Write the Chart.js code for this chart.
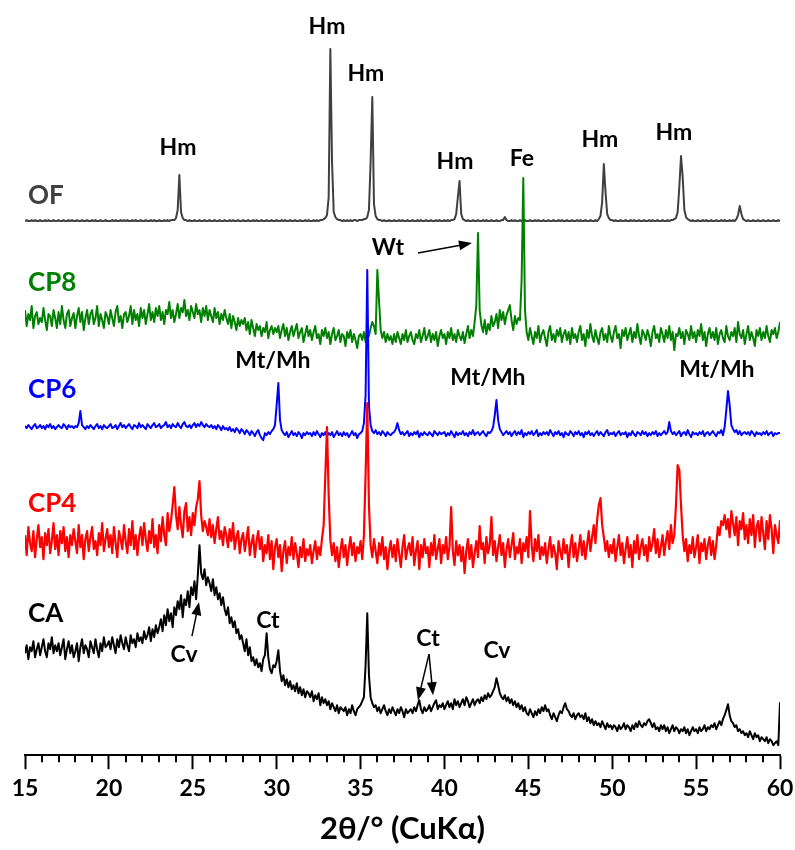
<!DOCTYPE html>
<html>
<head>
<meta charset="utf-8">
<script src="https://cdn.jsdelivr.net/npm/chart.js@4.4.1/dist/chart.umd.min.js"></script>
<style>
  html, body { margin: 0; padding: 0; background: #fff; }
  #wrap { width: 795px; height: 850px; }
</style>
</head>
<body>
<div id="wrap"><canvas id="xrd" width="795" height="850"></canvas></div>
<script>
// scan: 15-60 deg 2theta, 0.1 deg step
const scanStart = 15, scanStep = 0.1, scanPoints = 451;
const twoTheta = Array.from({length: scanPoints}, (_, i) => +(scanStart + i * scanStep).toFixed(1));
const majorTicks = [15, 20, 25, 30, 35, 40, 45, 50, 55, 60];

const samples = ['CA', 'CP4', 'CP6', 'CP8', 'OF'];
const offsets = [0, 190, 320, 415, 533];   // vertical stacking of the patterns

// intensities (a.u.), one row = 1 degree (x.0 ... x.9)
const ofCounts = [
  1,2,1,1,2,1,2,1,1,2,  1,1,2,1,2,1,1,2,1,1,  2,1,1,2,1,1,2,1,2,1,  1,2,1,1,2,1,1,2,1,1,  2,1,2,1,1,2,1,1,2,1,   // 15-19
  1,1,2,1,2,1,1,2,1,2,  1,2,1,1,2,1,2,1,1,2,  1,1,2,1,1,2,1,2,1,1,  2,1,1,2,1,2,1,2,2,2,  4,12,47,10,4,2,2,1,2,1, // 20-24
  1,2,1,1,2,1,1,2,1,1,  2,1,1,2,1,1,2,1,1,2,  1,1,2,1,2,1,1,2,1,1,  2,1,1,2,1,1,2,1,2,1,  1,2,1,1,2,1,1,2,1,1,   // 25-29
  2,1,1,2,1,2,1,1,2,1,  1,2,1,1,2,1,1,2,1,2,  1,1,2,1,2,1,2,2,3,4,  7,25,173,60,10,5,3,2,2,1,  2,1,2,1,2,1,2,2,1,2, // 30-34
  2,2,3,3,5,12,60,125,18,6,  3,2,2,1,2,1,1,2,1,1,  2,1,1,2,1,2,1,1,2,1,  1,2,1,1,2,1,2,1,1,2,  1,1,2,1,1,2,1,2,1,1, // 35-39
  2,1,2,1,2,2,3,8,25,41,  8,3,2,1,2,1,1,2,1,1,  2,1,1,2,1,2,1,1,2,1,  1,2,1,1,2,2,5,2,1,1,  2,1,2,1,1,2,1,1,2,1,  // 40-44
  1,2,1,1,2,1,2,1,1,2,  1,1,2,1,1,2,1,1,2,1,  2,1,1,2,1,1,2,1,1,2,  1,2,1,1,2,1,1,2,1,1,  2,1,3,6,20,58,30,8,4,2, // 45-49
  2,1,2,1,1,2,1,1,2,1,  1,2,1,2,1,1,2,1,1,2,  1,1,2,1,2,1,1,2,1,1,  2,1,1,2,1,2,2,3,4,10,  35,66,45,12,5,3,2,1,2,1, // 50-54
  1,2,1,1,2,1,2,1,1,2,  1,1,2,1,1,2,1,2,1,1,  2,1,2,1,3,7,16,8,3,2,  1,2,1,1,2,1,1,2,1,1,  2,1,1,2,1,1,2,1,1,2,  // 55-59
  1
];
const cp8Counts = [
  30,14,26,20,34,12,24,28,16,22,  18,32,20,10,26,24,14,30,22,12,  28,16,34,20,12,26,30,14,22,27,  12,24,32,18,28,10,22,30,16,26,  30,16,22,34,14,26,20,12,28,24, // 15-19
  16,30,22,14,28,34,18,24,12,26,  28,18,24,34,16,30,20,26,14,32,  22,30,16,26,36,20,28,18,32,24,  34,20,28,16,30,26,38,22,30,18,  26,36,22,32,28,40,24,30,20,34, // 20-24
  28,22,36,26,30,18,32,24,34,20,  30,24,18,32,22,28,16,26,20,30,  22,16,26,12,24,18,10,22,14,20,  16,22,10,18,6,20,12,4,16,10,  14,4,12,8,18,2,10,14,6,12,       // 25-29
  8,14,2,10,16,4,12,0,8,14,  4,10,16,2,8,12,-2,6,14,4,  10,0,8,14,2,6,-4,10,4,12,  2,8,-4,6,12,0,4,10,-2,6,  4,-6,8,2,10,-2,6,0,-8,4,                                // 30-34
  6,0,8,-2,10,4,12,18,14,6,  70,40,10,2,8,-2,6,0,4,-4,  6,-2,8,2,-4,6,0,10,-2,4,  8,0,-4,6,2,10,-2,4,12,0,  4,10,-2,6,0,8,-6,4,10,2,                                // 35-39
  6,-4,8,2,12,0,6,-2,10,4,  0,8,-3,6,14,2,10,4,18,35,  107,30,15,8,20,6,16,10,24,14,  18,26,12,30,20,28,16,25,30,35,  20,10,24,16,22,20,60,162,30,8,             // 40-44
  0,12,4,-4,8,2,14,-2,6,10,  2,-6,8,14,0,6,-2,10,4,12,  -2,6,10,0,8,-4,12,2,6,-2,  8,14,0,6,-6,10,2,16,4,-2,  10,2,-4,8,12,0,6,-2,14,4,                              // 45-49
  -2,8,14,2,6,-8,10,4,12,0,  6,12,-2,8,2,16,4,-4,10,6,  0,10,4,-6,8,14,2,6,-2,12,  6,-2,10,2,14,0,8,-10,6,4,  12,2,8,-4,10,6,0,14,2,8,                              // 50-54
  -2,10,4,16,0,8,-6,6,12,2,  8,0,12,-4,6,10,2,-2,14,4,  0,8,4,12,-2,18,6,2,10,-4,  6,14,0,8,2,-6,10,4,12,0,  8,2,14,4,-2,10,6,12,2,8,                               // 55-59
  18
];
const cp6Counts = [
  9,7,10,8,6,9,11,7,8,10,  7,9,6,10,8,11,7,9,6,8,  10,8,7,11,9,6,10,8,9,7,  9,8,12,24,10,8,6,9,7,10,  8,6,9,11,7,9,6,10,8,7,          // 15-19
  9,11,7,8,10,6,9,12,8,10,  7,9,11,8,6,10,9,7,12,8,  10,8,6,11,9,7,10,12,8,9,  11,7,9,10,13,8,10,7,11,9,  8,12,9,7,11,13,9,8,10,7,     // 20-24
  10,12,8,11,9,13,10,8,11,9,  8,10,7,9,6,10,8,5,9,6,  7,5,8,4,6,3,7,5,2,6,  4,1,5,3,0,4,2,-1,3,5,  0,-3,-5,2,0,3,1,4,6,10,           // 25-29
  30,52,15,5,2,0,3,-2,1,4,  0,2,-1,3,1,-3,2,0,3,1,  2,-1,3,0,4,1,-2,2,0,3,  -1,2,0,3,-2,1,4,0,2,-1,  3,0,2,-2,1,4,0,2,-3,1,          // 30-34
  2,4,12,40,165,30,10,4,2,5,  1,3,0,4,2,-1,3,1,0,2,  3,6,12,5,1,3,0,2,4,-1,  2,0,3,1,4,-2,2,0,3,1,  0,3,1,-1,4,2,0,3,1,2,           // 35-39
  3,-1,2,0,4,1,-2,3,0,2,  1,4,0,2,-1,3,1,5,0,2,  3,0,2,4,1,-1,3,2,4,8,  20,35,15,6,3,0,2,4,1,3,  -1,2,4,0,3,1,5,-2,2,0,           // 40-44
  3,1,4,0,2,5,-1,2,0,3,  1,3,0,5,2,-1,3,1,4,0,  2,-2,3,1,0,4,2,-1,3,1,  4,0,2,-2,3,1,4,0,2,-1,  2,4,0,3,1,-1,3,5,0,2,           // 45-49
  1,3,-1,2,4,0,2,1,3,-2,  2,0,4,1,-1,3,2,0,4,1,  3,-1,2,0,3,1,4,-1,2,0,  2,4,1,3,13,4,1,3,0,2,  4,-1,2,3,0,5,1,-2,3,1,          // 50-54
  2,0,3,1,4,-1,2,3,0,2,  4,1,-1,3,2,5,0,8,25,44,  30,10,6,3,5,1,4,0,2,3,  1,3,0,4,2,-1,3,1,2,0,  3,1,4,0,2,3,-1,2,1,2,           // 55-59
  2
];
const cp4Counts = [
  30,10,38,22,14,34,8,26,40,18,  28,6,32,20,36,12,24,42,16,30,  10,34,22,38,14,28,8,30,20,36,  24,12,40,18,30,6,26,34,14,28,  38,16,24,10,32,20,42,14,26,36, // 15-19
  18,30,12,38,22,8,34,26,16,40,  24,12,36,20,44,16,30,10,28,38,  20,42,26,14,34,22,46,18,30,12,  40,24,48,30,20,52,34,44,60,78,  50,36,58,40,28,54,62,34,48,30, // 20-24
  52,40,58,66,84,50,34,44,38,30,  46,28,40,22,36,48,26,34,20,38,  30,18,36,24,42,16,28,34,12,26,  32,14,26,38,10,22,30,8,24,34,  16,28,4,20,12,30,6,24,-4,18,   // 25-29
  26,8,20,-6,14,24,2,18,10,28,  6,22,12,-2,18,8,26,4,16,10,  20,2,14,24,6,18,10,26,40,90,  138,70,25,10,22,4,18,-2,14,26,  8,20,0,16,28,10,22,4,18,12,       // 30-34
  24,6,30,90,162,60,20,8,26,14,  2,22,10,28,6,18,-4,14,24,8,  20,4,26,12,-2,18,30,6,16,22,  10,28,0,14,24,-4,20,8,26,12,  18,-2,22,10,30,6,16,26,2,20,       // 35-39
  12,28,6,18,58,14,0,24,10,20,  4,18,-8,14,26,6,20,-2,12,24,  8,39,16,22,2,28,12,20,48,10,  24,4,18,30,10,22,-2,16,26,8,  20,32,6,18,12,26,2,22,14,28,      // 40-44
  8,54,20,4,26,14,30,6,18,10,  22,2,16,28,8,20,12,-4,24,14,  6,26,12,20,-2,18,30,8,22,4,  16,30,10,24,6,20,34,14,28,40,  22,45,60,67,40,28,14,24,8,20,      // 45-49
  12,26,4,18,30,10,22,2,16,28,  8,20,-2,24,12,30,6,18,26,10,  20,4,28,14,22,36,12,26,8,18,  30,10,24,34,16,40,22,30,60,100,  95,60,30,14,26,4,20,12,28,8,    // 50-54
  18,30,2,22,14,26,6,20,28,10,  24,6,20,38,30,44,40,50,36,46,  28,54,42,30,48,20,44,36,52,26,  40,22,46,30,50,18,38,44,24,48,  32,16,44,26,50,36,12,40,30,22, // 55-59
  45
];
const caCounts = [
  102,110,96,108,104,114,98,106,112,100,  108,116,104,98,112,106,118,102,110,104,  112,100,108,116,96,106,114,102,110,98,  104,112,94,108,116,102,110,106,98,114,  108,102,116,106,98,112,104,118,108,110, // 15-19
  114,106,118,110,102,116,108,120,112,106,  118,110,104,120,112,116,108,122,114,118,  112,124,116,120,128,114,126,118,130,122,  128,136,124,140,130,146,134,142,128,148,  140,154,146,160,138,156,150,164,148,168, // 20-24
  160,174,156,180,210,182,176,186,170,178,  172,164,176,160,168,156,162,150,158,146,  140,148,132,138,128,134,122,126,116,120,  112,104,116,100,108,94,98,90,96,88,  92,84,96,100,122,98,86,82,90,88, // 25-29
  94,105,84,74,80,70,76,68,74,66,  70,64,72,62,68,60,66,58,64,62,  58,64,54,60,56,62,50,58,52,56,  50,54,46,52,48,44,50,42,48,46,  44,48,40,46,42,50,44,40,46,48,   // 30-34
  50,54,58,90,142,80,58,52,48,50,  44,48,42,46,50,44,40,46,42,48,  44,40,46,42,48,44,38,46,42,44,  46,42,48,44,50,55,46,42,48,44,  46,50,44,48,52,55,46,50,48,52,  // 35-39
  46,50,54,48,52,46,56,50,54,48,  52,56,50,58,54,48,52,56,50,54,  56,52,58,54,60,56,62,58,60,64,  68,77,70,62,58,56,60,54,58,52,  56,50,54,48,52,46,50,44,48,42,  // 40-44
  40,46,42,38,44,40,46,42,48,44,  50,44,46,40,36,42,38,34,40,44,  42,48,52,46,44,40,38,42,36,40,  42,38,40,36,42,34,38,32,36,30,  34,30,32,28,34,30,26,32,28,30,  // 45-49
  26,30,28,24,30,26,28,32,26,30,  28,24,30,26,32,28,34,30,28,32,  30,34,36,32,28,32,26,28,24,30,  26,30,24,28,22,26,30,24,28,26,  22,26,24,28,22,26,20,24,28,24,  // 50-54
  26,22,28,24,26,30,24,28,26,30,  28,32,26,30,34,30,36,40,45,51,  40,34,32,28,30,24,26,22,24,20,  22,18,24,20,16,22,18,20,14,18,  16,14,18,12,16,14,10,12,14,10,  // 55-59
  53
];
const patterns = [caCounts, cp4Counts, cp6Counts, cp8Counts, ofCounts];
const lineColors = ['#000000', '#ff0000', '#0000ff', '#008000', '#404040'];
const lineWidths = [2, 2.2, 2, 2, 2];

// phase labels: text, 2theta, height on the plot
const phaseLabels = [
  ['Hm', 24.12, 607], ['Hm', 33.0, 728], ['Hm', 35.32, 681], ['Hm', 40.63, 593],
  ['Fe', 44.62, 596], ['Hm', 49.27, 615], ['Hm', 53.68, 622],
  ['Wt', 36.63, 507],
  ['Mt/Mh', 29.78, 395], ['Mt/Mh', 42.59, 378], ['Mt/Mh', 56.24, 386],
  ['Cv', 24.48, 101], ['Ct', 29.48, 135], ['Ct', 39.02, 117], ['Cv', 43.13, 105]
];
const sampleLabelPos = [[15.18, 142], [15.18, 252], [15.18, 365], [15.18, 472], [15.18, 559]];
// arrows: from (2theta, h) to (2theta, h)
const arrows = [
  [38.42, 502, 41.64, 512],
  [24.95, 119, 25.37, 153],
  [39.08, 101, 38.42, 55],
  [39.08, 101, 39.32, 60]
];

const datasets = samples.map((name, k) => ({
  label: name,
  data: twoTheta.map((t, i) => ({x: t, y: patterns[k][i] + offsets[k]})),
  borderColor: lineColors[k],
  borderWidth: lineWidths[k],
  pointRadius: 0,
  tension: 0,
  borderJoinStyle: 'round',
  fill: false
}));

const annotate = {
  id: 'annotate',
  afterDraw(chart) {
    const {ctx, chartArea, scales: {x, y}} = chart;
    ctx.save();
    // minor ticks
    ctx.strokeStyle = '#000';
    ctx.lineWidth = 2;
    for (let t = scanStart; t <= 60; t++) {
      if (majorTicks.includes(t)) continue;
      const px = Math.round(x.getPixelForValue(t));
      ctx.beginPath();
      ctx.moveTo(px, chartArea.bottom);
      ctx.lineTo(px, chartArea.bottom + 7);
      ctx.stroke();
    }
    // sample names
    ctx.font = 'bold 26px Lato, "Open Sans", sans-serif';
    ctx.textAlign = 'left';
    ctx.textBaseline = 'middle';
    samples.forEach((s, k) => {
      ctx.fillStyle = lineColors[k];
      ctx.fillText(s, x.getPixelForValue(sampleLabelPos[k][0]), y.getPixelForValue(sampleLabelPos[k][1]));
    });
    // phase labels
    ctx.fillStyle = '#000';
    ctx.font = 'bold 23px Lato, "Open Sans", sans-serif';
    ctx.textAlign = 'center';
    phaseLabels.forEach(([txt, t, h]) => {
      ctx.fillText(txt, x.getPixelForValue(t), y.getPixelForValue(h));
    });
    // arrows
    ctx.strokeStyle = '#000';
    ctx.lineWidth = 1.5;
    arrows.forEach(([t1, h1, t2, h2]) => {
      const x1 = x.getPixelForValue(t1), y1 = y.getPixelForValue(h1);
      const x2 = x.getPixelForValue(t2), y2 = y.getPixelForValue(h2);
      const a = Math.atan2(y2 - y1, x2 - x1);
      const len = 13, w = 5;
      ctx.beginPath();
      ctx.moveTo(x1, y1);
      ctx.lineTo(x2 - Math.cos(a) * len * 0.8, y2 - Math.sin(a) * len * 0.8);
      ctx.stroke();
      ctx.beginPath();
      ctx.moveTo(x2, y2);
      ctx.lineTo(x2 - Math.cos(a) * len - Math.sin(a) * w, y2 - Math.sin(a) * len + Math.cos(a) * w);
      ctx.lineTo(x2 - Math.cos(a) * len + Math.sin(a) * w, y2 - Math.sin(a) * len - Math.cos(a) * w);
      ctx.closePath();
      ctx.fillStyle = '#000';
      ctx.fill();
    });
    ctx.restore();
  }
};

new Chart(document.getElementById('xrd'), {
  type: 'line',
  data: {datasets},
  plugins: [annotate],
  options: {
    responsive: false,
    animation: false,
    devicePixelRatio: 1,
    layout: {padding: {left: 25, right: 15, top: 5, bottom: 2}},
    plugins: {legend: {display: false}, tooltip: {enabled: false}},
    scales: {
      x: {
        type: 'linear',
        min: 15,
        max: 60,
        afterFit: s => { s.paddingLeft = 0; s.paddingRight = 0; },
        border: {display: true, color: '#000', width: 2},
        grid: {
          drawOnChartArea: false,
          tickLength: 14,
          tickWidth: 2,
          tickColor: c => majorTicks.includes(c.tick.value) ? '#000' : 'rgba(0,0,0,0)'
        },
        ticks: {
          stepSize: 1,
          autoSkip: false,
          maxRotation: 0,
          padding: 6,
          color: '#000',
          font: {family: 'Lato, "Open Sans", sans-serif', size: 23, weight: 'bold'},
          callback: v => majorTicks.includes(v) ? String(v) : ''
        },
        title: {
          display: true,
          text: '2θ/° (CuKα)',
          color: '#000',
          font: {family: 'Lato, "Open Sans", sans-serif', size: 31, weight: 'bold'},
          padding: {top: 2, bottom: 0}
        }
      },
      y: {
        display: false,
        min: 0,
        max: 750
      }
    }
  }
});
</script>
</body>
</html>
